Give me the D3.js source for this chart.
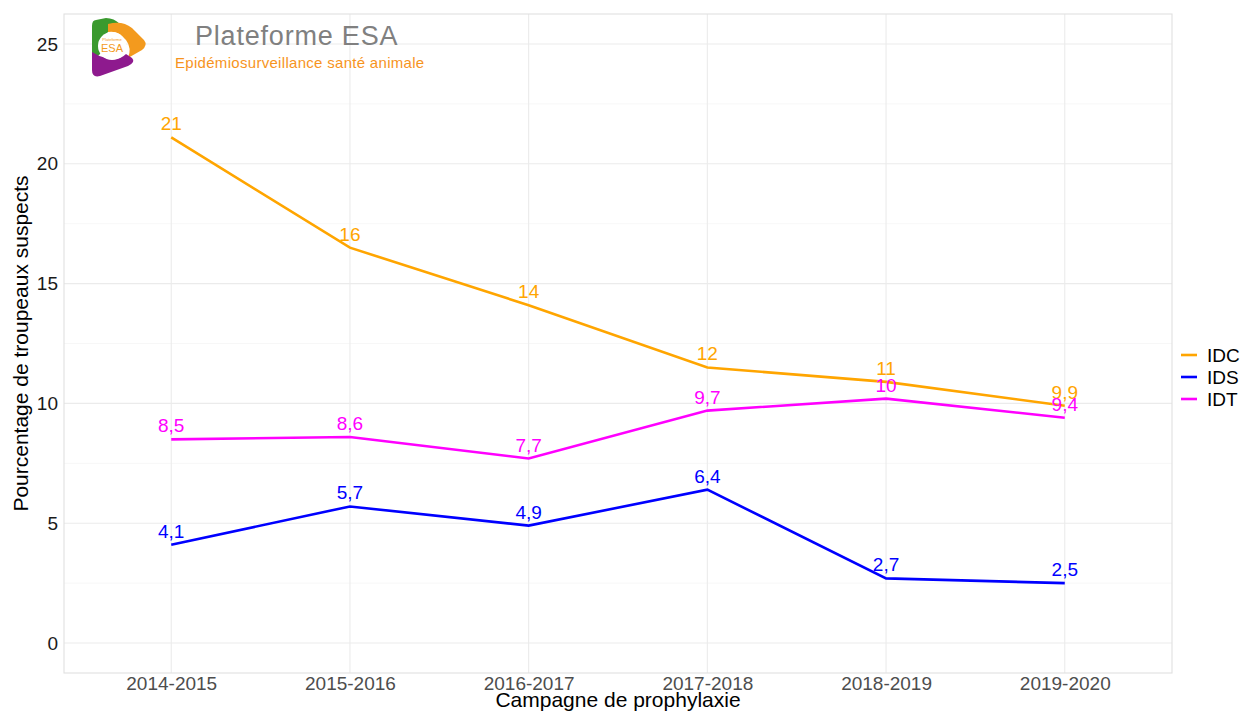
<!DOCTYPE html>
<html>
<head>
<meta charset="utf-8">
<script src="https://cdn.jsdelivr.net/npm/d3@7"></script>
<style>
  body { margin: 0; background: #fff; }
  text { font-family: "Liberation Sans", Arial, sans-serif; }
</style>
</head>
<body>
<svg width="1242" height="713"></svg>
<script>
const campagnes = ["2014-2015", "2015-2016", "2016-2017", "2017-2018", "2018-2019", "2019-2020"];
const idc = [21.1, 16.5, 14.1, 11.5, 10.9, 9.9];
const ids = [4.1, 5.7, 4.9, 6.4, 2.7, 2.5];
const idt = [8.5, 8.6, 7.7, 9.7, 10.2, 9.4];
const idcLabels = ["21", "16", "14", "12", "11", "9,9"];
const idsLabels = ["4,1", "5,7", "4,9", "6,4", "2,7", "2,5"];
const idtLabels = ["8,5", "8,6", "7,7", "9,7", "10", "9,4"];
const yTicks = [0, 5, 10, 15, 20, 25];

const series = [
  { name: "IDC", values: idc, labels: idcLabels, color: "orange" },
  { name: "IDS", values: ids, labels: idsLabels, color: "blue" },
  { name: "IDT", values: idt, labels: idtLabels, color: "magenta" }
];

const svg = d3.select("svg");
const pLeft = 64, pRight = 1172, pTop = 14, pBottom = 673;

const x = d3.scalePoint().domain(campagnes).range([pLeft, pRight]).padding(0.6);
const y = d3.scaleLinear().domain([-1.25, 26.25]).range([pBottom, pTop]);

// grille
const grid = svg.append("g");
d3.range(2.5, 25, 5).forEach(v => {
  grid.append("line").attr("x1", pLeft).attr("x2", pRight)
    .attr("y1", y(v)).attr("y2", y(v))
    .attr("stroke", "#f2f2f2").attr("stroke-width", 0.6);
});
yTicks.forEach(v => {
  grid.append("line").attr("x1", pLeft).attr("x2", pRight)
    .attr("y1", y(v)).attr("y2", y(v))
    .attr("stroke", "#ebebeb").attr("stroke-width", 1.1);
});
campagnes.forEach(c => {
  grid.append("line").attr("x1", x(c)).attr("x2", x(c))
    .attr("y1", pTop).attr("y2", pBottom)
    .attr("stroke", "#ebebeb").attr("stroke-width", 1.1);
});
svg.append("rect").attr("x", pLeft).attr("y", pTop)
  .attr("width", pRight - pLeft).attr("height", pBottom - pTop)
  .attr("fill", "none").attr("stroke", "#e0e0e0").attr("stroke-width", 1.1);

// axes
const yAxis = svg.append("g").attr("transform", `translate(${pLeft},0)`)
  .call(d3.axisLeft(y).tickValues(yTicks).tickSize(0).tickPadding(6));
yAxis.select(".domain").remove();
yAxis.selectAll("text").attr("font-size", 19).attr("fill", "#1a1a1a");

const xAxis = svg.append("g").attr("transform", `translate(0,${pBottom})`)
  .call(d3.axisBottom(x).tickSize(0).tickPadding(0));
xAxis.select(".domain").remove();
xAxis.selectAll("text").attr("font-size", 19).attr("fill", "#4d4d4d")
  .attr("dy", null).attr("y", 17);

svg.append("text").attr("x", 618).attr("y", 707).attr("text-anchor", "middle")
  .attr("font-size", 21).attr("fill", "#000").text("Campagne de prophylaxie");
svg.append("text").attr("transform", `translate(28,${(pTop + pBottom) / 2}) rotate(-90)`)
  .attr("text-anchor", "middle").attr("font-size", 21).attr("fill", "#000")
  .text("Pourcentage de troupeaux suspects");

// lignes
const line = d3.line().x((d, i) => x(campagnes[i])).y(d => y(d));
series.forEach(s => {
  svg.append("path").datum(s.values).attr("d", line)
    .attr("fill", "none").attr("stroke", s.color).attr("stroke-width", 2.6);
  svg.append("g").selectAll("text").data(s.values).join("text")
    .attr("x", (d, i) => x(campagnes[i]))
    .attr("y", d => y(d) - 7)
    .attr("text-anchor", "middle").attr("font-size", 19)
    .attr("fill", s.color)
    .text((d, i) => s.labels[i]);
});

// légende
const legend = svg.append("g").attr("transform", "translate(1180,355)");
series.forEach((s, i) => {
  legend.append("line").attr("x1", 1).attr("x2", 17)
    .attr("y1", i * 22).attr("y2", i * 22)
    .attr("stroke", s.color).attr("stroke-width", 2.6);
  legend.append("text").attr("x", 27).attr("y", i * 22 + 7)
    .attr("font-size", 19).attr("fill", "#000").text(s.name);
});

// logo
const logo = svg.append("g").attr("transform", "translate(92,18)");
logo.append("path").attr("d", "M4,2 Q0,2 0,8 L0,34 Q0,40 6,38 L14,30 Q8,22 16,14 L28,6 Q22,0 14,0 Z").attr("fill", "#3a9a2e");
logo.append("path").attr("d", "M16,6 Q30,2 40,10 L52,22 Q56,27 50,32 L36,40 Q40,30 34,22 Q26,12 16,14 Z").attr("fill", "#f39a1e");
logo.append("path").attr("d", "M0,34 L0,52 Q0,60 8,58 L36,48 Q44,44 40,40 L34,36 Q26,44 14,40 Q6,38 0,34 Z").attr("fill", "#8e1a8e");
logo.append("circle").attr("cx", 20).attr("cy", 28).attr("r", 14).attr("fill", "#fff");
logo.append("text").attr("x", 20).attr("y", 23).attr("text-anchor", "middle")
  .attr("font-size", 4).attr("fill", "#f39a1e").text("Plateforme");
logo.append("text").attr("x", 20).attr("y", 34).attr("text-anchor", "middle")
  .attr("font-size", 11).attr("fill", "#f39a1e").text("ESA");

svg.append("text").attr("x", 195).attr("y", 45)
  .attr("font-family", "DejaVu Sans").attr("font-size", 27).attr("fill", "#808080")
  .attr("letter-spacing", 0.8).text("Plateforme ESA");
svg.append("text").attr("x", 175).attr("y", 68)
  .attr("font-family", "DejaVu Sans").attr("font-size", 15).attr("fill", "#f7941d")
  .attr("letter-spacing", 0.3)
  .text("Epidémiosurveillance santé animale");
</script>
</body>
</html>
